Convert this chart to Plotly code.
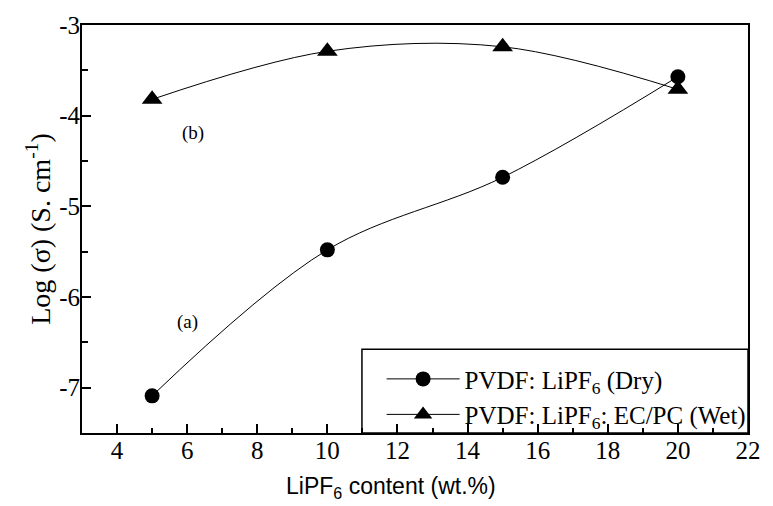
import plotly.graph_objects as go

# LiPF6 content (wt.%)
content = [5, 10, 15, 20]
# log conductivity (S cm^-1)
log_sigma_dry = [-7.09, -5.48, -4.68, -3.57]
log_sigma_wet = [-3.82, -3.29, -3.24, -3.71]

x_ticks = [4, 6, 8, 10, 12, 14, 16, 18, 20, 22]
y_ticks = [-7, -6, -5, -4, -3]
y_tick_text = ["-7", "-6", "-5", "-4", "-3"]

serif = "Liberation Serif, Times New Roman, serif"
sans = "Liberation Sans, Arial, sans-serif"

fig = go.Figure()
fig.add_trace(go.Scatter(
    x=content, y=log_sigma_dry, mode="lines+markers",
    name="PVDF: LiPF<sub>6</sub> (Dry)",
    line=dict(color="black", width=1, shape="spline", smoothing=1.0),
    marker=dict(symbol="circle", size=15, color="black"),
))
fig.add_trace(go.Scatter(
    x=content, y=log_sigma_wet, mode="lines+markers",
    name="PVDF: LiPF<sub>6</sub>: EC/PC (Wet)",
    line=dict(color="black", width=1, shape="spline", smoothing=1.0),
    marker=dict(symbol="triangle-up", size=18, color="black"),
))

axis_common = dict(
    showline=True, linecolor="black", linewidth=2, mirror=True,
    ticks="inside", ticklen=9, tickwidth=2, tickcolor="black",
    showgrid=False, zeroline=False,
    tickfont=dict(family=serif, size=25, color="black"),
)

fig.update_xaxes(range=[3, 22], tickvals=x_ticks, ticklabelstandoff=-6,
                 minor=dict(dtick=1, tick0=3, ticks="inside", ticklen=5, tickwidth=1.5, tickcolor="black"),
                 **axis_common)
fig.update_yaxes(range=[-7.5, -3], tickvals=y_ticks, ticktext=y_tick_text, ticklabelstandoff=-5,
                 minor=dict(dtick=0.5, tick0=-3.5, ticks="inside", ticklen=6, tickwidth=1.5, tickcolor="black"),
                 **axis_common)

# curve labels
fig.add_annotation(x=6.17, y=-4.19, xref="x", yref="y", text="(b)", showarrow=False,
                   font=dict(family=serif, size=19, color="black"))
fig.add_annotation(x=6.0, y=-6.28, xref="x", yref="y", text="(a)", showarrow=False,
                   font=dict(family=serif, size=19, color="black"))

# axis titles
fig.add_annotation(x=(397 - 82) / (760 - 82), y=(433 - 488) / 414, xref="paper", yref="paper",
                   text="LiPF<sub>6</sub> content (wt.%)", showarrow=False,
                   xanchor="center", yanchor="middle",
                   font=dict(family=sans, size=23, color="black"))
fig.add_annotation(x=(37 - 82) / (760 - 82), y=0.5, xref="paper", yref="paper",
                   text="Log (σ) (S. cm<sup>-1</sup>)", showarrow=False, textangle=-90,
                   xanchor="center", yanchor="middle",
                   font=dict(family=serif, size=28, color="black"))

# legend frame
fig.add_shape(type="rect", xref="paper", yref="paper",
              x0=(367 - 82) / (760 - 82), x1=1, y0=0, y1=(433 - 348) / 414,
              line=dict(color="black", width=1.5), fillcolor="white", layer="below")

fig.update_layout(
    width=773, height=506,
    margin=dict(l=82, r=13, t=19, b=73),
    paper_bgcolor="white", plot_bgcolor="rgba(0,0,0,0)",
    showlegend=True,
    legend=dict(x=(387 - 82) / (760 - 82), y=(433 - 355) / 414, xanchor="left", yanchor="top",
                borderwidth=0, bgcolor="rgba(0,0,0,0)",
                font=dict(family=serif, size=25, color="black"),
                tracegroupgap=0, itemwidth=73),
)

fig.write_html("out.html")
